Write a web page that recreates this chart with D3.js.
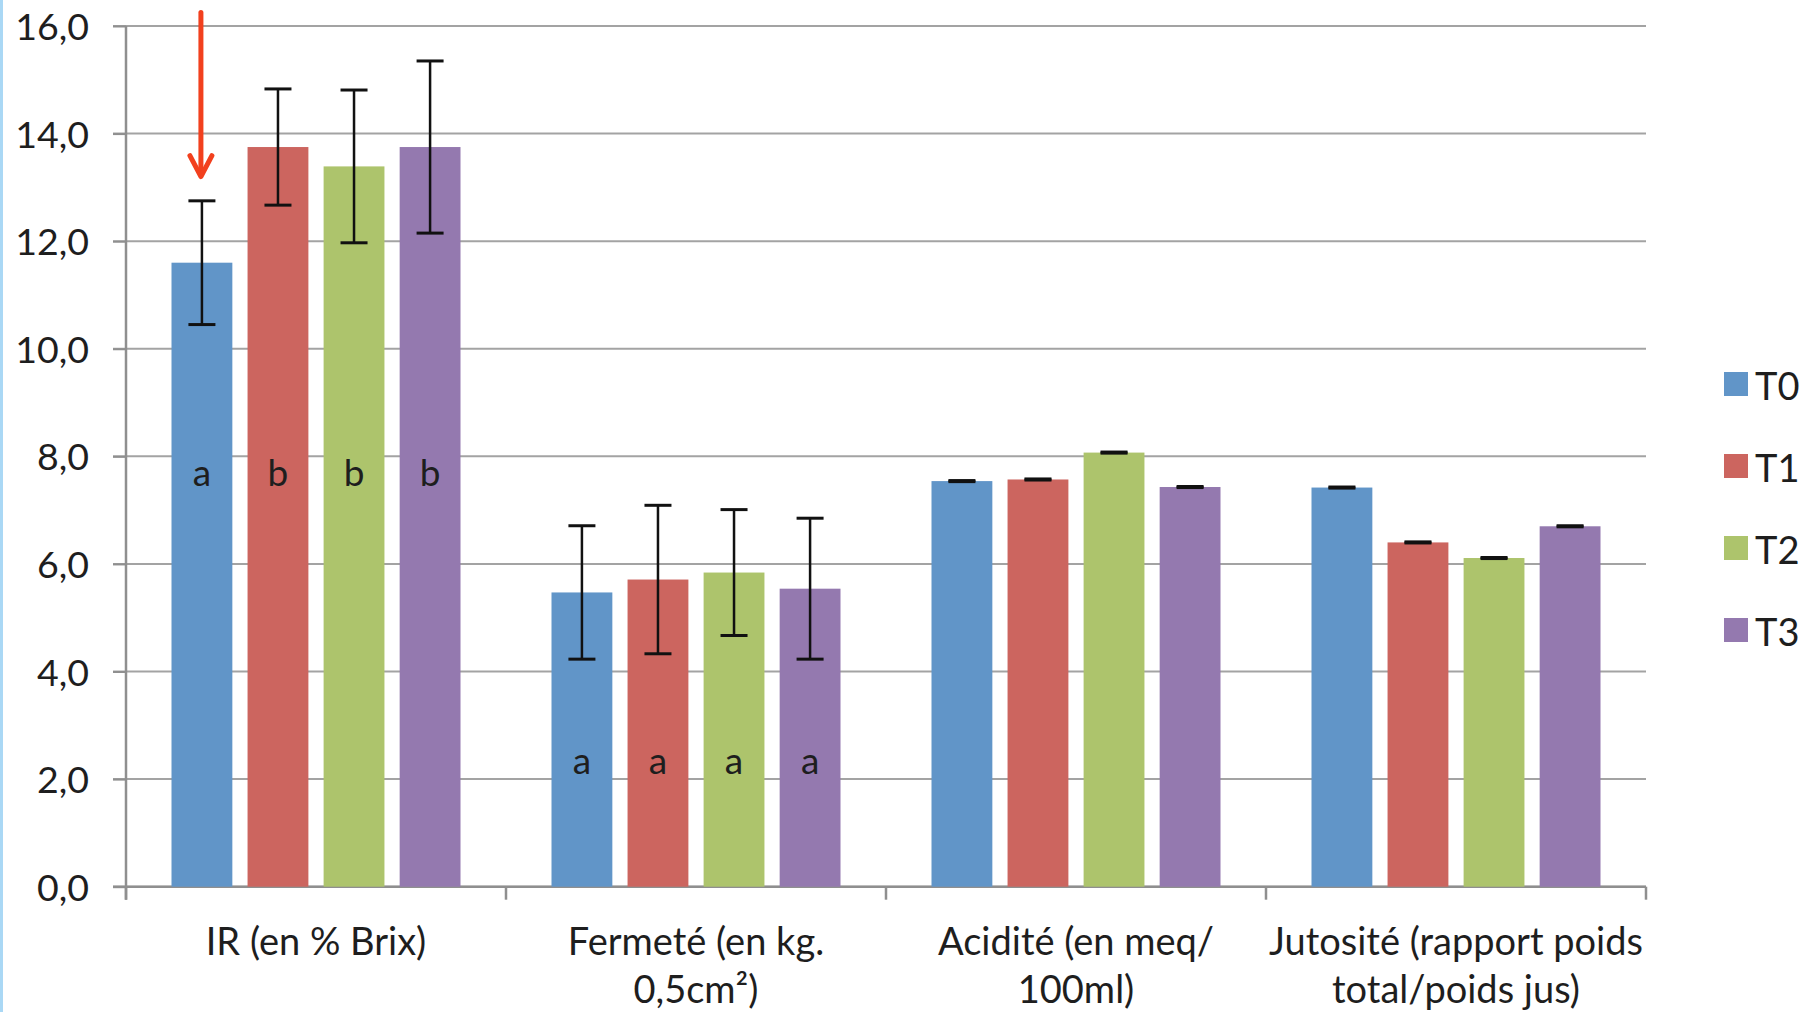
<!DOCTYPE html>
<html>
<head>
<meta charset="utf-8">
<script src="https://cdn.jsdelivr.net/npm/d3@7"></script>
<style>
  html, body { margin: 0; padding: 0; background: #ffffff; }
  svg { display: block; }
  text { font-family: Lato, "Open Sans", sans-serif; fill: #1e1e1e; }
</style>
</head>
<body>
<script>
// ---- data ----
const categories = ["IR (en % Brix)", "Fermeté (en kg. 0,5cm²)", "Acidité (en meq/100ml)", "Jutosité (rapport poids total/poids jus)"];
const categoryLines = [["IR (en % Brix)"], ["Fermeté (en kg.", "0,5cm²)"], ["Acidité (en meq/", "100ml)"], ["Jutosité (rapport poids", "total/poids jus)"]];
const seriesNames = ["T0", "T1", "T2", "T3"];
const T0 = [11.6, 5.47, 7.54, 7.42];
const T1 = [13.75, 5.71, 7.57, 6.40];
const T2 = [13.39, 5.84, 8.07, 6.11];
const T3 = [13.75, 5.54, 7.43, 6.70];
const T0err = [1.15, 1.24, 0.01, 0.01];
const T1err = [1.08, 1.38, 0.01, 0.01];
const T2err = [1.42, 1.17, 0.01, 0.01];
const T3err = [1.60, 1.31, 0.01, 0.01];
const letters = [["a", "b", "b", "b"], ["a", "a", "a", "a"], null, null];
const letterValue = [7.44, 2.09, null, null];
const yTicks = [0, 2, 4, 6, 8, 10, 12, 14, 16];
const colors = ["#6195c8", "#cc655f", "#adc46c", "#9479af"];
const arrowFrom = 16.25, arrowTo = 13.2; // annotation arrow over T0 / IR

const seriesValues = [T0, T1, T2, T3];
const seriesErr = [T0err, T1err, T2err, T3err];

// ---- layout ----
const W = 1815, H = 1012;
const plotLeft = 126, plotRight = 1646, plotTop = 26, plotBottom = 886.7;

const svg = d3.select("body").append("svg").attr("width", W).attr("height", H);

// left slide border
svg.append("rect").attr("x", 0).attr("y", 0).attr("width", 3).attr("height", H).attr("fill", "#aad8f5");

const x0 = d3.scaleBand().domain(categories).range([plotLeft, plotRight]).paddingInner(0).paddingOuter(0);
const x1 = d3.scaleBand().domain(seriesNames).range([45.5, x0.bandwidth() - 45.5]).paddingInner(0.2).paddingOuter(0);
const y = d3.scaleLinear().domain([0, 16]).range([plotBottom, plotTop]);

// gridlines
svg.append("g").selectAll("line").data(yTicks).join("line")
  .attr("x1", plotLeft - 13).attr("x2", plotRight)
  .attr("y1", d => y(d)).attr("y2", d => y(d))
  .attr("stroke", "#a3a3a3").attr("stroke-width", 2);

// y axis
const yAxis = d3.axisLeft(y).tickValues(yTicks).tickSize(13).tickPadding(24)
  .tickFormat(d => d3.format(".1f")(d).replace(".", ","));
const gy = svg.append("g").attr("transform", `translate(${plotLeft},0)`).call(yAxis);
gy.select(".domain").attr("stroke", "#8f8f8f").attr("stroke-width", 2.5).attr("d", `M0,${plotTop}V${plotBottom + 13}`);
gy.selectAll(".tick line").attr("stroke", "#8f8f8f").attr("stroke-width", 2);
gy.selectAll(".tick text").attr("font-size", 37.5).attr("font-family", "Lato, sans-serif").attr("fill", "#1e1e1e").attr("dy", "0.36em");

// x axis
const xAxis = d3.axisBottom(x0).tickSize(0).tickFormat("");
const gx = svg.append("g").attr("transform", `translate(0,${plotBottom})`).call(xAxis);
gx.select(".domain").attr("stroke", "#8f8f8f").attr("stroke-width", 2.5).attr("d", `M${plotLeft - 13},0H${plotRight}`);
const boundaries = categories.map(c => x0(c)).concat([x0(categories[categories.length - 1]) + x0.bandwidth()]);
gx.append("g").selectAll("line").data(boundaries).join("line")
  .attr("x1", d => d).attr("x2", d => d).attr("y1", 0).attr("y2", 13)
  .attr("stroke", "#8f8f8f").attr("stroke-width", 2.5);

// category labels
const labels = svg.append("g");
categories.forEach((c, i) => {
  const t = labels.append("text")
    .attr("x", x0(c) + x0.bandwidth() / 2)
    .attr("y", 955)
    .attr("text-anchor", "middle")
    .attr("font-size", 38);
  categoryLines[i].forEach((line, j) => {
    t.append("tspan").attr("x", x0(c) + x0.bandwidth() / 2).attr("dy", j === 0 ? 0 : 48).text(line);
  });
});

// bars
const barData = [];
categories.forEach((c, i) => {
  seriesNames.forEach((s, k) => {
    barData.push({ cat: c, ci: i, series: s, si: k, value: seriesValues[k][i], err: seriesErr[k][i] });
  });
});

svg.append("g").selectAll("rect").data(barData).join("rect")
  .attr("x", d => x0(d.cat) + x1(d.series))
  .attr("width", x1.bandwidth())
  .attr("y", d => y(d.value))
  .attr("height", d => y(0) - y(d.value))
  .attr("fill", d => colors[d.si]);

// error bars
const eb = svg.append("g").attr("stroke", "#111").attr("stroke-width", 2.5);
const capW = 27;
barData.forEach(d => {
  const cx = x0(d.cat) + x1(d.series) + x1.bandwidth() / 2;
  const yt = y(d.value + d.err), yb = y(d.value - d.err);
  eb.append("line").attr("x1", cx).attr("x2", cx).attr("y1", yt).attr("y2", yb);
  eb.append("line").attr("x1", cx - capW / 2).attr("x2", cx + capW / 2).attr("y1", yt).attr("y2", yt).attr("stroke-width", 3);
  eb.append("line").attr("x1", cx - capW / 2).attr("x2", cx + capW / 2).attr("y1", yb).attr("y2", yb).attr("stroke-width", 3);
});

// significance letters
const lg = svg.append("g");
barData.forEach(d => {
  if (!letters[d.ci]) return;
  const cx = x0(d.cat) + x1(d.series) + x1.bandwidth() / 2;
  lg.append("text").attr("x", cx).attr("y", y(letterValue[d.ci]))
    .attr("text-anchor", "middle").attr("font-size", 37).attr("fill", "#1a1a2e")
    .text(letters[d.ci][d.si]);
});

// legend
const legend = svg.append("g").attr("transform", "translate(1724,372)");
seriesNames.forEach((s, k) => {
  const g = legend.append("g").attr("transform", `translate(0,${k * 82})`);
  g.append("rect").attr("width", 24).attr("height", 24).attr("fill", colors[k]);
  g.append("text").attr("x", 31).attr("y", 12).attr("dy", "0.42em").attr("font-size", 38).text(s);
});

// red annotation arrow
const ax = x0(categories[0]) + x1(seriesNames[0]) + x1.bandwidth() / 2 - 1;
const arrow = svg.append("g").attr("stroke", "#f2401e").attr("stroke-width", 5).attr("fill", "none").attr("stroke-linecap", "round").attr("stroke-linejoin", "round");
arrow.append("line").attr("x1", ax).attr("x2", ax).attr("y1", y(arrowFrom)).attr("y2", y(arrowTo) - 2);
arrow.append("path").attr("d", `M${ax - 11},${y(arrowTo) - 21}L${ax},${y(arrowTo)}L${ax + 11},${y(arrowTo) - 21}`);
</script>
</body>
</html>
